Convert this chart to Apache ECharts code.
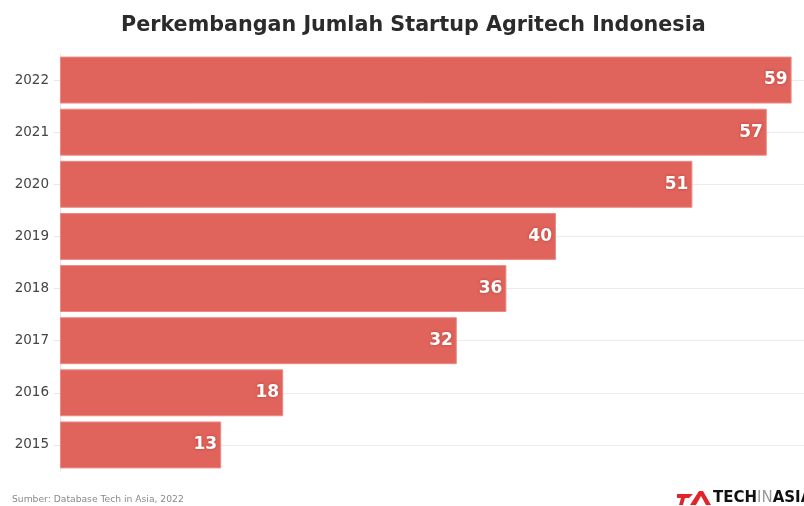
<!DOCTYPE html>
<html>
<head>
<meta charset="utf-8">
<script src="https://cdn.jsdelivr.net/npm/echarts@6/dist/echarts.min.js"></script>
<style>
  html, body {margin: 0; padding: 0; background: #fff;}
  #chart {width: 804px; height: 506px;}
</style>
</head>
<body>
<div id="chart"></div>
<script>
// data
var years = ['2015', '2016', '2017', '2018', '2019', '2020', '2021', '2022'];
var jumlahStartup = [13, 18, 32, 36, 40, 51, 57, 59];

var myChart = echarts.init(document.getElementById('chart'));

var option = {
    backgroundColor: '#fff',
    animation: false,
    title: {
        text: 'Perkembangan Jumlah Startup Agritech Indonesia',
        left: 116, top: 10,
        textStyle: {fontFamily: 'DejaVu Sans', fontSize: 20.7, fontWeight: 'bold', color: '#2b2b2b'}
    },
    grid: {left: 60, right: 0, top: 54, bottom: 35},
    xAxis: {
        type: 'value', min: 0, max: 60,
        show: false
    },
    yAxis: {
        type: 'category',
        data: years,
        axisLine: {show: true, lineStyle: {color: '#e6e6e6'}},
        axisTick: {show: true, alignWithLabel: true, length: 6, lineStyle: {color: '#e6e6e6'}},
        axisLabel: {color: '#444', fontSize: 13.5, fontFamily: 'DejaVu Sans', margin: 11},
        splitLine: {show: false}
    },
    series: [
        {
            // garis bantu horizontal di tengah tiap kategori
            type: 'line', data: [], z: 1, silent: true,
            markLine: {
                symbol: 'none', silent: true, z: 1,
                label: {show: false},
                lineStyle: {color: '#ececec', type: 'solid', width: 1},
                data: years.map(function (y) { return {yAxis: y}; })
            }
        },
        {
            type: 'bar', z: 3,
            data: jumlahStartup,
            barCategoryGap: '10%',
            itemStyle: {color: '#e0645b', borderColor: '#e98a83', borderWidth: 1},
            label: {
                show: true, position: 'insideRight', offset: [1, 0],
                color: '#fff', fontFamily: 'DejaVu Sans', fontSize: 17, fontWeight: 'bold',
                textShadowColor: 'rgba(160,40,30,0.6)', textShadowBlur: 3
            }
        }
    ],
    graphic: [
        {
            type: 'text', left: 12, top: 495,
            style: {text: 'Sumber: Database Tech in Asia, 2022', fill: '#888', fontSize: 9.2, fontFamily: 'DejaVu Sans'}
        },
        {
            type: 'polygon',
            shape: {points: [[677, 494], [693, 494], [689, 498], [685, 498], [683, 505], [679, 505], [681, 498], [677, 498]]},
            style: {fill: '#e2252b'}
        },
        {
            type: 'polygon',
            shape: {points: [[699, 491], [703, 491], [711, 505], [706, 505], [701, 496], [696, 505], [690, 505]]},
            style: {fill: '#e2252b'}
        },
        {
            type: 'text', left: 713, top: 491,
            style: {
                text: '{a|TECH}{b|IN}{a|ASIA}',
                rich: {
                    a: {fill: '#111', fontSize: 15, fontWeight: 'bold', fontFamily: 'DejaVu Sans'},
                    b: {fill: '#999', fontSize: 15, fontWeight: 'normal', fontFamily: 'DejaVu Sans'}
                }
            }
        }
    ]
};
myChart.setOption(option);
</script>
</body>
</html>
